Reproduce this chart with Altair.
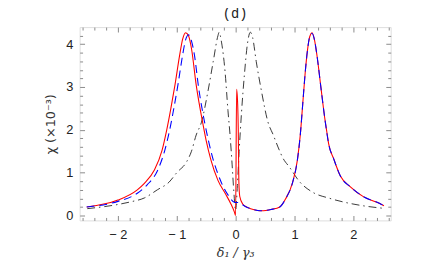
import altair as alt
import pandas as pd

# ---- data ----
black_x = [-2.52, -2.03, -1.78, -1.55, -1.33, -1.13, -1.0, -0.83, -0.75, -0.67, -0.58, -0.47, -0.38, -0.3, -0.28,
           -0.24, -0.18, -0.13, -0.09, -0.06, -0.03, 0.0, 0.03, 0.06, 0.1, 0.15, 0.2, 0.25, 0.29, 0.35, 0.44,
           0.55, 0.64, 0.72, 0.8, 0.92, 1.08, 1.3, 1.6, 1.95, 2.25, 2.5]
black_y = [0.16, 0.25, 0.32, 0.41, 0.6, 0.78, 1.0, 1.26, 1.5, 1.88, 2.18, 2.9, 3.6, 4.2, 4.28,
           4.05, 3.37, 2.45, 1.8, 1.2, 0.55, 0.12, 0.7, 1.5, 2.4, 3.3, 4.0, 4.28, 4.15, 3.6, 2.9,
           2.18, 1.88, 1.6, 1.35, 1.12, 0.8, 0.55, 0.4, 0.28, 0.21, 0.17]

red_x = [-2.53, -2.0, -1.67, -1.55, -1.38, -1.25, -1.17, -1.1, -1.03, -0.95, -0.9, -0.85, -0.8, -0.75, -0.67,
         -0.55, -0.5, -0.42, -0.3, -0.17, -0.08, -0.02, 0.0, 0.017, 0.035, 0.045, 0.055, 0.07, 0.12, 0.2,
         0.33, 0.47, 0.6, 0.75, 0.85, 0.97, 1.05, 1.1, 1.14, 1.18, 1.22, 1.26, 1.3, 1.34, 1.38, 1.45, 1.52,
         1.55, 1.58, 1.67, 1.78, 1.95, 2.17, 2.45, 2.52]
red_y = [0.2, 0.36, 0.6, 0.75, 1.06, 1.52, 2.0, 2.5, 3.05, 3.75, 4.12, 4.27, 4.2, 3.9, 3.05,
         2.1, 1.75, 1.3, 0.82, 0.5, 0.27, 0.08, 0.0, 2.95, 2.6, 2.0, 0.8, 0.45, 0.27, 0.19,
         0.13, 0.11, 0.14, 0.2, 0.39, 0.78, 1.3, 1.9, 2.6, 3.3, 3.85, 4.18, 4.27, 4.1, 3.76, 2.98, 2.22,
         1.95, 1.68, 1.31, 0.92, 0.67, 0.44, 0.28, 0.23]

blue_x = [-2.53, -2.0, -1.67, -1.5, -1.33, -1.2, -1.12, -1.05, -0.98, -0.9, -0.85, -0.8, -0.75, -0.7, -0.63,
          -0.53, -0.45, -0.38, -0.3, -0.22, -0.12, -0.02, 0.05, 0.18, 0.3, 0.42, 0.6, 0.75, 0.85, 0.97,
          1.05, 1.1, 1.14, 1.18, 1.22, 1.26, 1.3, 1.34, 1.38, 1.45, 1.52, 1.58, 1.67, 1.78, 1.95, 2.17,
          2.45, 2.52]
blue_y = [0.2, 0.33, 0.52, 0.72, 1.04, 1.54, 2.0, 2.5, 3.05, 3.75, 4.1, 4.22, 4.08, 3.75, 3.0,
          2.2, 1.68, 1.3, 0.97, 0.7, 0.46, 0.31, 0.3, 0.2, 0.14, 0.11, 0.14, 0.2, 0.39, 0.78,
          1.3, 1.9, 2.6, 3.3, 3.85, 4.18, 4.25, 4.1, 3.76, 2.98, 2.22, 1.68, 1.31, 0.92, 0.67, 0.44,
          0.28, 0.23]

x_major = [-2, -1, 0, 1, 2]
y_major = [0, 1, 2, 3, 4]
x_minor = [-2.6, -2.4, -2.2, -1.8, -1.6, -1.4, -1.2, -0.8, -0.6, -0.4, -0.2,
           0.2, 0.4, 0.6, 0.8, 1.2, 1.4, 1.6, 1.8, 2.2, 2.4, 2.6]
y_minor = [0.2, 0.4, 0.6, 0.8, 1.2, 1.4, 1.6, 1.8, 2.2, 2.4, 2.6, 2.8,
           3.2, 3.4, 3.6, 3.8, 4.2]

W, H = 317, 197
FRAME = "#8a8a8a"


def frame_df(xs, ys):
    return pd.DataFrame({"x": xs, "y": ys, "o": list(range(len(xs)))})


xscale = alt.Scale(domain=[-2.65, 2.635], nice=False, zero=False)
yscale = alt.Scale(domain=[-0.115, 4.4], nice=False, zero=False)


def tick_axis(orient, values, size, offset):
    return alt.Axis(orient=orient, values=values, ticks=True, tickSize=size, tickColor=FRAME,
                    tickWidth=1, labels=False, domain=False, grid=False, title=None, offset=offset)


def line(df, color, width, xaxis, yaxis, dash=None, opacity=1.0):
    kw = dict(color=color, strokeWidth=width, opacity=opacity, clip=True, interpolate="monotone")
    if dash is not None:
        kw["strokeDash"] = dash
    return alt.Chart(df).mark_line(**kw).encode(
        x=alt.X("x:Q", scale=xscale, axis=xaxis),
        y=alt.Y("y:Q", scale=yscale, axis=yaxis),
        order="o:Q",
    )


x_label_axis = alt.Axis(
    orient="bottom", values=x_major, ticks=False, domain=False, grid=False,
    labelExpr="datum.value < 0 ? '\u2212 ' + format(-datum.value, 'd') : format(datum.value, 'd')",
    labelFont="Liberation Sans", labelFontSize=13, labelColor="#222", labelPadding=8,
    title="\u03b4\u2081 / \u03b3\u2083", titleFont="DejaVu Serif", titleFontStyle="italic",
    titleFontWeight="normal", titleFontSize=13, titleColor="#333", titlePadding=6,
)
y_label_axis = alt.Axis(
    orient="left", values=y_major, ticks=False, domain=False, grid=False, format="d",
    labelFont="Liberation Sans", labelFontSize=13, labelColor="#222", labelPadding=7,
    title="\u03c7   (\u00d710\u207b\u00b3)", titleFont="DejaVu Sans", titleFontWeight="normal",
    titleFontSize=13, titleColor="#333", titlePadding=8,
)

bdf = frame_df(black_x, black_y)
rdf = frame_df(red_x, red_y)
udf = frame_df(blue_x, blue_y)

l0 = line(bdf, "#222222", 0.9, x_label_axis, y_label_axis, dash=[8, 4, 1.5, 4])
l1 = line(rdf, "#ff0000", 1.1, tick_axis("top", x_major, 5, -H), tick_axis("right", y_major, 5, -W))
l2 = line(udf, "#0000ff", 1.1, tick_axis("top", x_minor, 3, -H), tick_axis("right", y_minor, 3, -W),
          dash=[8, 5])
l3 = line(udf, "#0000ff", 1.0, tick_axis("bottom", x_major, 5, -H), tick_axis("left", y_major, 5, -W),
          opacity=0.0)
l4 = line(udf, "#0000ff", 1.0, tick_axis("bottom", x_minor, 3, -H), tick_axis("left", y_minor, 3, -W),
          opacity=0.0)

chart = alt.layer(l0, l1, l2, l3, l4).resolve_axis(
    x="independent", y="independent"
).properties(
    width=W, height=H,
    autosize=alt.AutoSizeParams(type="none"),
    padding={"left": 73, "top": 17, "right": 38, "bottom": 45},
    title=alt.TitleParams(text="(d)", frame="group", anchor="middle", font="Liberation Mono",
                          fontSize=14, fontWeight="normal", color="#222", offset=6),
).configure_view(
    stroke=FRAME, strokeWidth=1
).configure(background="white")

chart.save("out.html", embed_options={"renderer": "svg", "actions": False})
